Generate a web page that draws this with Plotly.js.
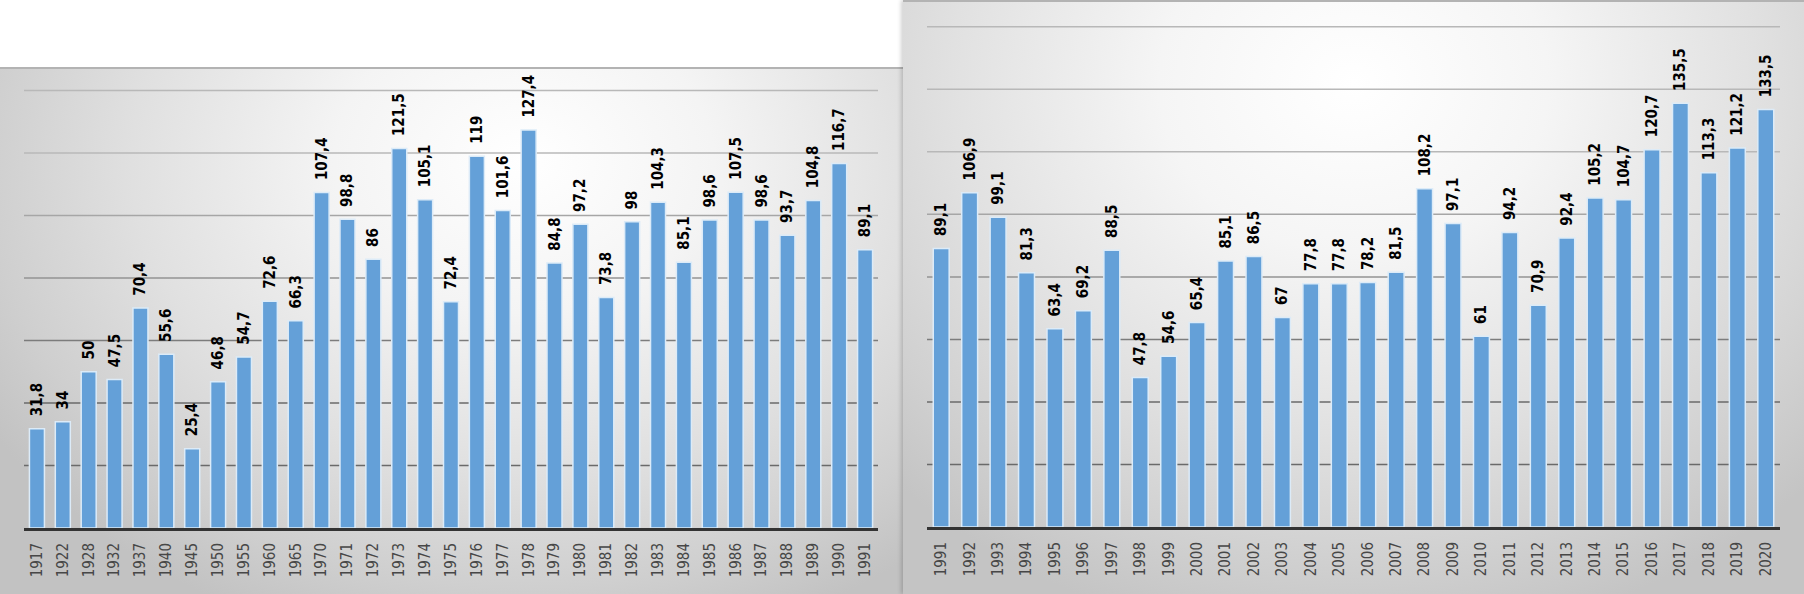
<!DOCTYPE html>
<html><head><meta charset="utf-8">
<script src="https://cdn.plot.ly/plotly-3.0.1.min.js"></script>
<style>
html,body{margin:0;padding:0;background:#fff;width:1804px;height:594px;overflow:hidden;}
body{position:relative;}
.panel{position:absolute;}
#leftPanel{left:0;top:67px;width:903px;height:527px;
 background:radial-gradient(ellipse 70% 95% at 58% 18%, #ffffff 0%, #f4f4f4 30%, #e0e0e0 62%, #cfcfcf 85%, #c2c2c2 100%);
 box-shadow: inset 0 2px 0 #b3b3b3;}
#rightPanel{left:903px;top:0;width:901px;height:594px;
 background:radial-gradient(ellipse 72% 95% at 50% 14%, #ffffff 0%, #f5f5f5 30%, #e1e1e1 62%, #d0d0d0 85%, #c4c4c4 100%);
 box-shadow: inset 0 2px 0 #b3b3b3, -2px 0 4px rgba(0,0,0,0.18);}
.plot{position:absolute;left:0;top:0;}
</style>
</head><body>
<div id="leftPanel" class="panel"><div id="leftPlot" class="plot"></div></div>
<div id="rightPanel" class="panel"><div id="rightPlot" class="plot"></div></div>
<script>
// ---- data ----
const leftYears = ['1917','1922','1928','1932','1937','1940','1945','1950','1955','1960','1965',
 '1970','1971','1972','1973','1974','1975','1976','1977','1978','1979','1980','1981','1982',
 '1983','1984','1985','1986','1987','1988','1989','1990','1991'];
const leftValues = [31.8,34,50,47.5,70.4,55.6,25.4,46.8,54.7,72.6,66.3,
 107.4,98.8,86,121.5,105.1,72.4,119,101.6,127.4,84.8,97.2,73.8,98,
 104.3,85.1,98.6,107.5,98.6,93.7,104.8,116.7,89.1];

const rightYears = ['1991','1992','1993','1994','1995','1996','1997','1998','1999','2000',
 '2001','2002','2003','2004','2005','2006','2007','2008','2009','2010',
 '2011','2012','2013','2014','2015','2016','2017','2018','2019','2020'];
const rightValues = [89.1,106.9,99.1,81.3,63.4,69.2,88.5,47.8,54.6,65.4,
 85.1,86.5,67,77.8,77.8,78.2,81.5,108.2,97.1,61,
 94.2,70.9,92.4,105.2,104.7,120.7,135.5,113.3,121.2,133.5];

const leftGrid = [20,40,60,80,100,120,140];
const rightGrid = [20,40,60,80,100,120,140,160];

// ---- helpers ----
const FONT = '"DejaVu Sans Condensed", "DejaVu Sans", sans-serif';
function fmt(v){ return '\u00A0\u00A0' + String(v).replace('.', ','); }
function gridColor(v){
  if (v <= 40) return '#6a6a6a';
  if (v <= 60) return '#7c7c7c';
  if (v <= 80) return '#939393';
  if (v <= 100) return '#a6a6a6';
  return '#b8b8b8';
}
function gridShapes(vals){
  return vals.map(v => ({type:'line', xref:'paper', yref:'y', x0:0, x1:1, y0:v, y1:v,
    line:{color:gridColor(v), width:1.5}, layer:'below'}));
}
function makeTrace(x, y){
  return {
    type:'bar', x:x, y:y,
    text:y.map(fmt), textposition:'outside', textangle:-90,
    constraintext:'none', cliponaxis:false,
    textfont:{family:FONT, size:15, color:'#000000', weight:'bold'},
    marker:{color:'#64a0d8', line:{color:'#dcebf8', width:1.5}},
    hoverinfo:'none'
  };
}
function makeLayout(w, h, margin, ymax, gridVals, gap){
  return {
    width:w, height:h, margin:margin,
    paper_bgcolor:'rgba(0,0,0,0)', plot_bgcolor:'rgba(0,0,0,0)',
    showlegend:false, bargap:gap,
    xaxis:{type:'category', tickangle:-90, ticks:'', showgrid:false, zeroline:false,
      showline:true, linecolor:'#333333', linewidth:3, ticklabelstandoff:6,
      tickfont:{family:FONT, size:15, color:'#474747'}},
    yaxis:{range:[0, ymax], showgrid:false, zeroline:false, showticklabels:false,
      showline:false, ticks:''},
    shapes:gridShapes(gridVals),
    font:{family:FONT}
  };
}
const cfg = {staticPlot:true, displayModeBar:false};
Plotly.newPlot('leftPlot', [makeTrace(leftYears, leftValues)],
  makeLayout(903, 527, {l:24, r:25, t:8, b:66}, 145, leftGrid, 0.42), cfg);
Plotly.newPlot('rightPlot', [makeTrace(rightYears, rightValues)],
  makeLayout(901, 594, {l:24, r:24, t:8, b:67}, 166, rightGrid, 0.44), cfg);
</script>
</body></html>
